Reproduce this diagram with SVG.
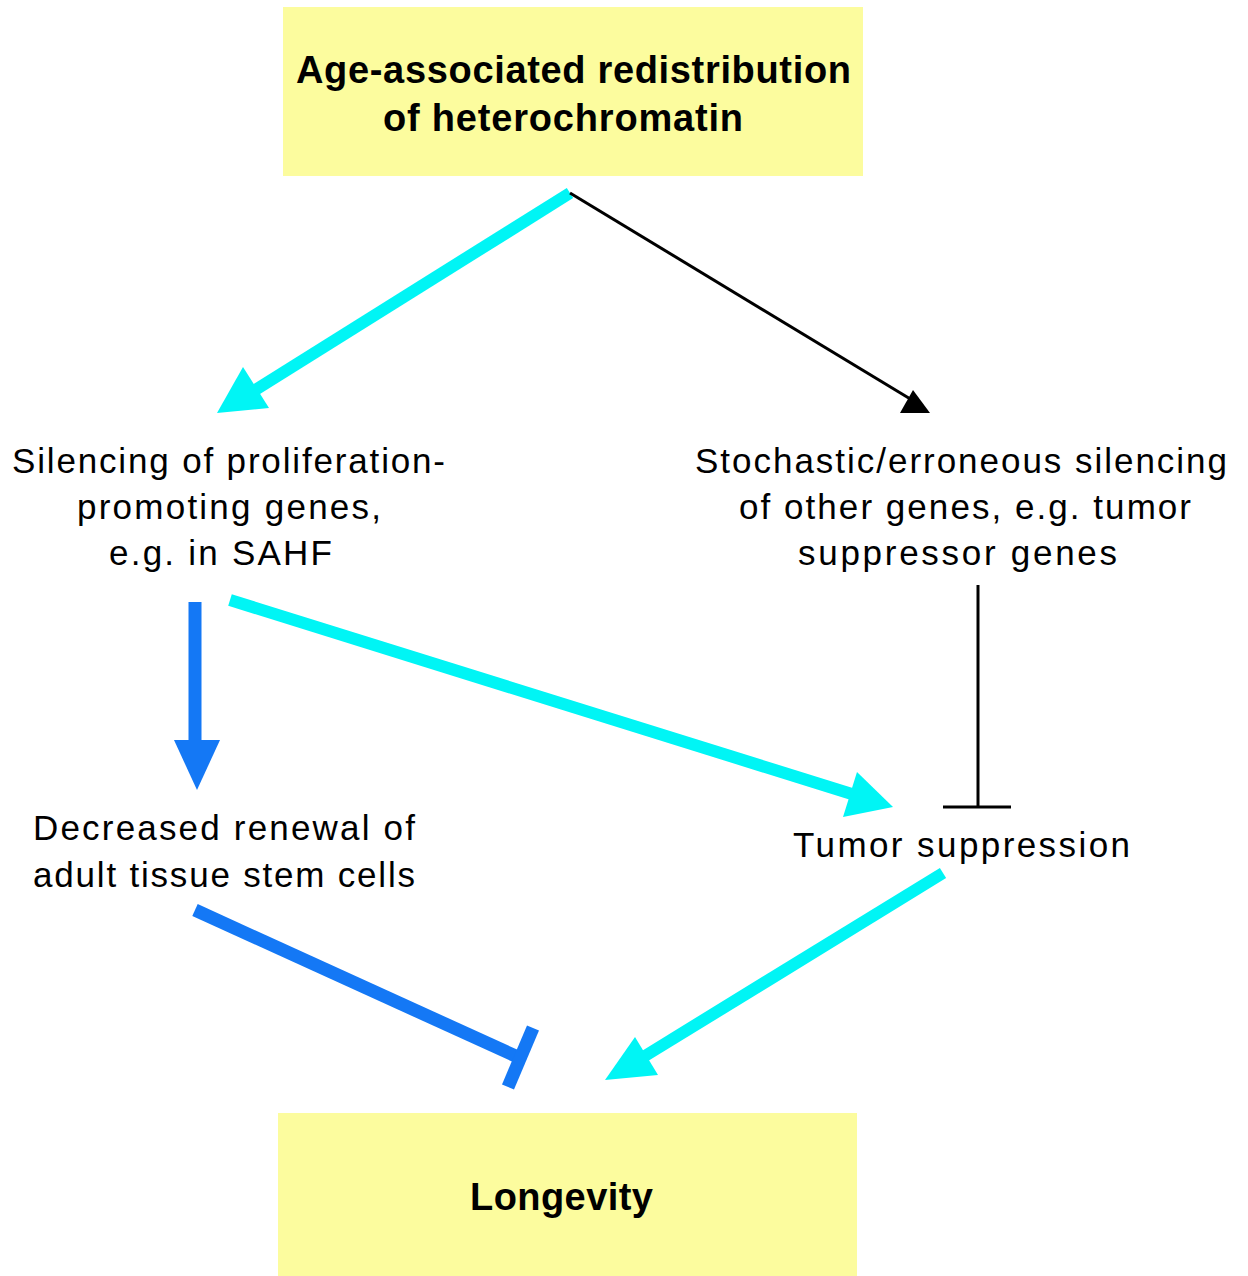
<svg xmlns="http://www.w3.org/2000/svg" width="1248" height="1276" viewBox="0 0 1248 1276">
<style>
.box{fill:#FCFC9E}
.t{font-family:"Liberation Sans",Arial,sans-serif;font-size:35px;fill:#000;text-anchor:middle}
.b{font-family:"Liberation Sans",Arial,sans-serif;font-size:38px;font-weight:bold;fill:#000;text-anchor:middle}
.cy{stroke:#00F5F5;stroke-width:12;fill:none}
.bl{stroke:#1478F5;stroke-width:13;fill:none}
.k{stroke:#000;stroke-width:3;fill:none}
</style>
<rect width="1248" height="1276" fill="#fff"/>
<g id="node-top">
<rect class="box" x="283" y="7" width="580" height="169"/>
<text class="b" x="573.5" y="83" textLength="555" lengthAdjust="spacing">Age-associated redistribution</text>
<text class="b" x="563" y="131" textLength="360" lengthAdjust="spacing">of heterochromatin</text>
</g>
<g id="node-silencing">
<text class="t" x="228.5" y="473" textLength="433" lengthAdjust="spacing">Silencing of proliferation-</text>
<text class="t" x="229" y="519" textLength="304" lengthAdjust="spacing">promoting genes,</text>
<text class="t" x="220.5" y="565" textLength="223" lengthAdjust="spacing">e.g. in SAHF</text>
</g>
<g id="node-stochastic">
<text class="t" x="961" y="473" textLength="532" lengthAdjust="spacing">Stochastic/erroneous silencing</text>
<text class="t" x="965" y="519" textLength="452" lengthAdjust="spacing">of other genes, e.g. tumor</text>
<text class="t" x="957.5" y="565" textLength="319" lengthAdjust="spacing">suppressor genes</text>
</g>
<g id="node-decreased">
<text class="t" x="224" y="840" textLength="382" lengthAdjust="spacing">Decreased renewal of</text>
<text class="t" x="224" y="887" textLength="382" lengthAdjust="spacing">adult tissue stem cells</text>
</g>
<g id="node-tumor">
<text class="t" x="961.5" y="857" textLength="337" lengthAdjust="spacing">Tumor suppression</text>
</g>
<g id="node-longevity">
<rect class="box" x="278" y="1113" width="579" height="163"/>
<text class="b" x="561.5" y="1210" textLength="183" lengthAdjust="spacing">Longevity</text>
</g>
<g id="connectors">
<line class="cy" x1="570" y1="193" x2="252" y2="392"/>
<polygon fill="#00F5F5" points="217,413 243,367 269,408"/>
<line class="k" x1="570" y1="193" x2="912" y2="400"/>
<polygon fill="#000" points="930,413 913,390 900,413"/>
<line class="bl" x1="195" y1="602" x2="195" y2="742"/>
<polygon fill="#1478F5" points="174,740 220,740 197,790"/>
<line class="cy" x1="230" y1="600" x2="855" y2="795"/>
<polygon fill="#00F5F5" points="893,807 857,772 843,817"/>
<line class="k" x1="978" y1="585" x2="978" y2="807"/>
<line class="k" x1="943" y1="807" x2="1011" y2="807"/>
<line class="bl" x1="195" y1="910" x2="520" y2="1058"/>
<line class="bl" x1="533" y1="1028" x2="508" y2="1087"/>
<line class="cy" x1="943" y1="873" x2="640" y2="1059"/>
<polygon fill="#00F5F5" points="605,1080 635,1037 658,1075"/>
</g>
</svg>
